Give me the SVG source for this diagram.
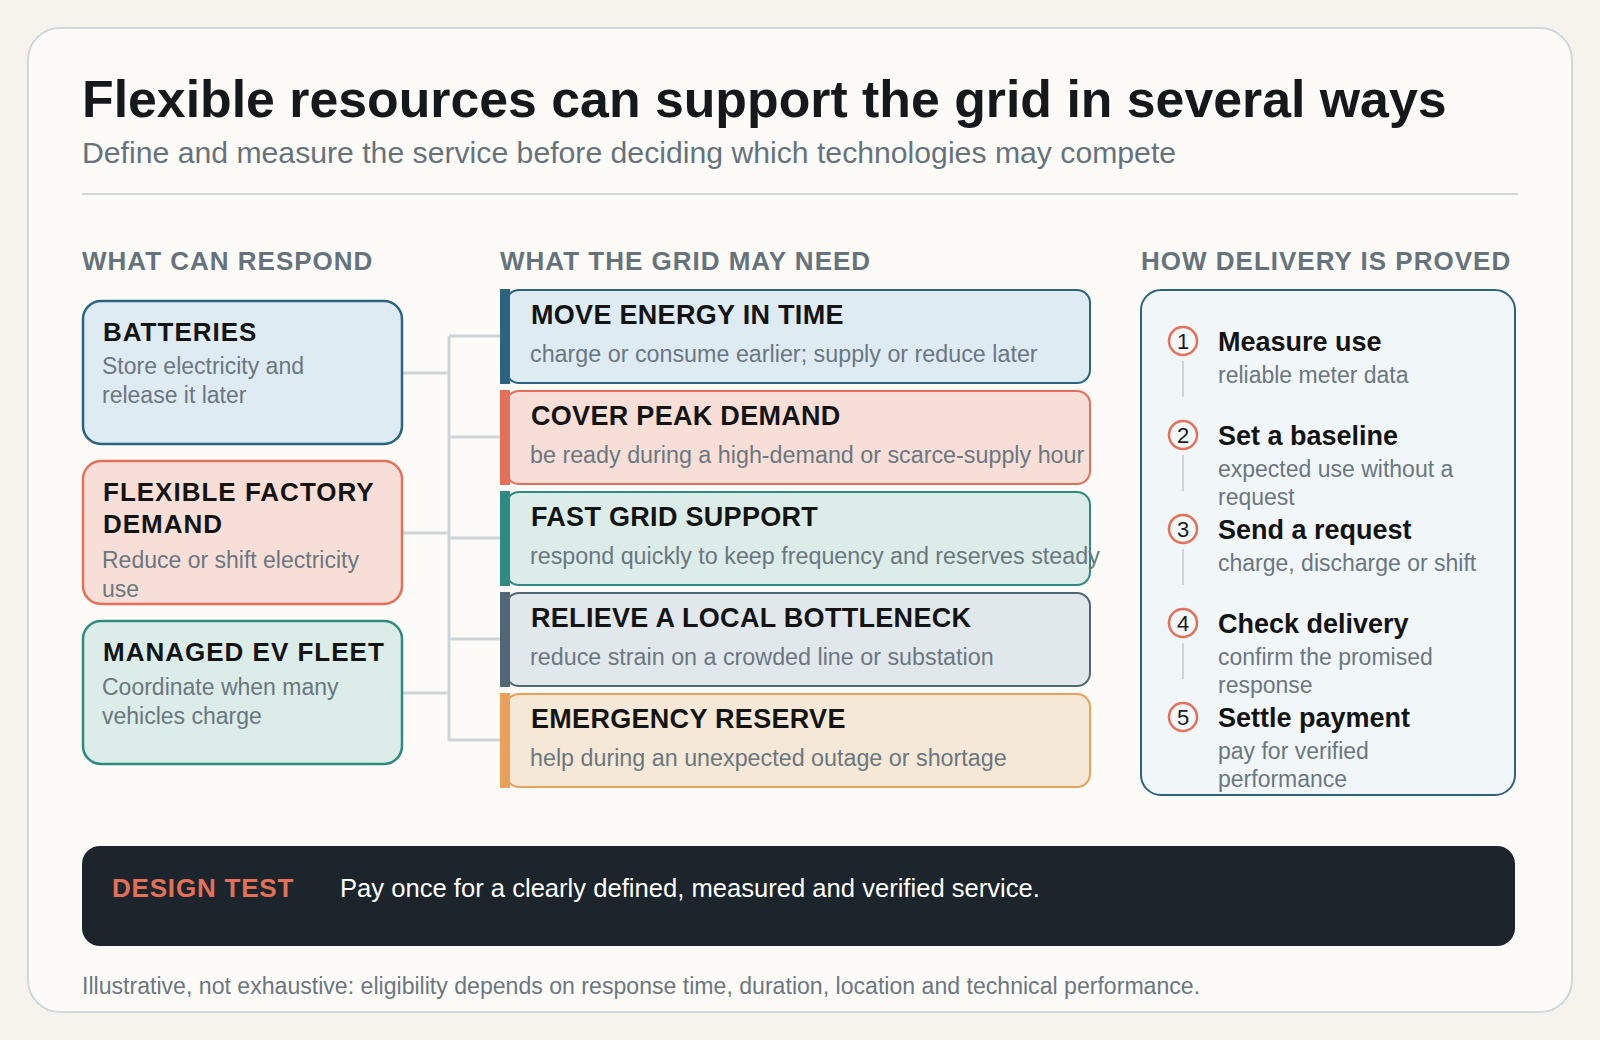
<svg xmlns="http://www.w3.org/2000/svg" width="1600" height="1040" viewBox="0 0 1600 1040">
<style>
text{font-family:"Liberation Sans",Arial,Helvetica,sans-serif}
.title{font-size:51.8px;font-weight:700;fill:#15191c}
.sub{font-size:30.2px;fill:#66737c}
.sec{font-size:26px;font-weight:700;fill:#66737c;letter-spacing:1px}
.lt{font-size:26px;font-weight:700;fill:#141414;letter-spacing:1px}
.mt{font-size:27px;font-weight:700;fill:#141414;letter-spacing:0.3px}
.rt{font-size:27px;font-weight:700;fill:#141414}
.d{font-size:23px;fill:#6b7780}
.md{font-size:23.3px;fill:#6b7780}
.num{font-size:22px;fill:#1b1b1b;text-anchor:middle}
.conn{stroke:#cdd5d9;stroke-width:3;fill:none}
.step{fill:none;stroke:#cdd5d9;stroke-width:2}
.circ{fill:#f2f7fa;stroke:#e5705a;stroke-width:2.5}
</style>
<rect width="1600" height="1040" fill="#f6f3ec"/>
<rect x="28" y="28" width="1544" height="984" rx="32" fill="#fcfbf8" stroke="#cfd8dc" stroke-width="2"/>
<text class="title" x="82" y="117">Flexible resources can support the grid in several ways</text>
<text class="sub" x="82" y="163">Define and measure the service before deciding which technologies may compete</text>
<line x1="82" y1="194" x2="1518" y2="194" stroke="#cfd8dc" stroke-width="2"/>
<text class="sec" x="82" y="270">WHAT CAN RESPOND</text>
<text class="sec" x="500" y="270">WHAT THE GRID MAY NEED</text>
<text class="sec" x="1141" y="270">HOW DELIVERY IS PROVED</text>

<g id="connectors">
<path class="conn" d="M402 373H449M402 533H449M402 693H449M449 336V741M449 336H501M449 437H501M449 538H501M449 639H501M449 740H501"/>
</g>

<g id="batteries">
<rect x="83" y="301" width="319" height="143" rx="18" fill="#deebf3" stroke="#2c6480" stroke-width="2.5"/>
<text class="lt" x="103" y="341">BATTERIES</text>
<text class="d" x="102" y="374">Store electricity and</text>
<text class="d" x="102" y="403">release it later</text>
</g>
<g id="factory">
<rect x="83" y="461" width="319" height="143" rx="18" fill="#f7dfd7" stroke="#e5705a" stroke-width="2.5"/>
<text class="lt" x="103" y="501">FLEXIBLE FACTORY</text>
<text class="lt" x="103" y="533">DEMAND</text>
<text class="d" x="102" y="568">Reduce or shift electricity</text>
<text class="d" x="102" y="597">use</text>
</g>
<g id="ev">
<rect x="83" y="621" width="319" height="143" rx="18" fill="#dcece8" stroke="#2e8b82" stroke-width="2.5"/>
<text class="lt" x="103" y="661">MANAGED EV FLEET</text>
<text class="d" x="102" y="695">Coordinate when many</text>
<text class="d" x="102" y="724">vehicles charge</text>
</g>

<g id="move">
<rect x="506" y="290" width="584" height="93" rx="13" fill="#deebf3" stroke="#2c6480" stroke-width="2"/>
<rect x="500" y="289" width="10" height="95" fill="#2c6480"/>
<text class="mt" x="531" y="324">MOVE ENERGY IN TIME</text>
<text class="md" x="530" y="362">charge or consume earlier; supply or reduce later</text>
</g>
<g id="peak">
<rect x="506" y="391" width="584" height="93" rx="13" fill="#f7dfd7" stroke="#e5705a" stroke-width="2"/>
<rect x="500" y="390" width="10" height="95" fill="#e5705a"/>
<text class="mt" x="531" y="425">COVER PEAK DEMAND</text>
<text class="md" x="530" y="463">be ready during a high-demand or scarce-supply hour</text>
</g>
<g id="fast">
<rect x="506" y="492" width="584" height="93" rx="13" fill="#dcece8" stroke="#2e8b82" stroke-width="2"/>
<rect x="500" y="491" width="10" height="95" fill="#2e8b82"/>
<text class="mt" x="531" y="526">FAST GRID SUPPORT</text>
<text class="md" x="530" y="564">respond quickly to keep frequency and reserves steady</text>
</g>
<g id="bottleneck">
<rect x="506" y="593" width="584" height="93" rx="13" fill="#e1e8ec" stroke="#506876" stroke-width="2"/>
<rect x="500" y="592" width="10" height="95" fill="#506876"/>
<text class="mt" x="531" y="627">RELIEVE A LOCAL BOTTLENECK</text>
<text class="md" x="530" y="665">reduce strain on a crowded line or substation</text>
</g>
<g id="emergency">
<rect x="506" y="694" width="584" height="93" rx="13" fill="#f5e8d6" stroke="#e8a05a" stroke-width="2"/>
<rect x="500" y="693" width="10" height="95" fill="#e8a05a"/>
<text class="mt" x="531" y="728">EMERGENCY RESERVE</text>
<text class="md" x="530" y="766">help during an unexpected outage or shortage</text>
</g>

<g id="delivery">
<rect x="1141" y="290" width="374" height="505" rx="20" fill="#f1f6f9" stroke="#2c6480" stroke-width="2"/>
<line class="step" x1="1183" y1="361" x2="1183" y2="397"/>
<line class="step" x1="1183" y1="455" x2="1183" y2="491"/>
<line class="step" x1="1183" y1="549" x2="1183" y2="585"/>
<line class="step" x1="1183" y1="643" x2="1183" y2="679"/>
<circle class="circ" cx="1183" cy="341" r="14"/>
<text class="num" x="1183" y="349">1</text>
<text class="rt" x="1218" y="351">Measure use</text>
<text class="d" x="1218" y="383">reliable meter data</text>
<circle class="circ" cx="1183" cy="435" r="14"/>
<text class="num" x="1183" y="443">2</text>
<text class="rt" x="1218" y="445">Set a baseline</text>
<text class="d" x="1218" y="477">expected use without a</text>
<text class="d" x="1218" y="505">request</text>
<circle class="circ" cx="1183" cy="529" r="14"/>
<text class="num" x="1183" y="537">3</text>
<text class="rt" x="1218" y="539">Send a request</text>
<text class="d" x="1218" y="571">charge, discharge or shift</text>
<circle class="circ" cx="1183" cy="623" r="14"/>
<text class="num" x="1183" y="631">4</text>
<text class="rt" x="1218" y="633">Check delivery</text>
<text class="d" x="1218" y="665">confirm the promised</text>
<text class="d" x="1218" y="693">response</text>
<circle class="circ" cx="1183" cy="717" r="14"/>
<text class="num" x="1183" y="725">5</text>
<text class="rt" x="1218" y="727">Settle payment</text>
<text class="d" x="1218" y="759">pay for verified</text>
<text class="d" x="1218" y="787">performance</text>
</g>

<g id="design-test">
<rect x="82" y="846" width="1433" height="100" rx="18" fill="#1b252b"/>
<text x="112" y="897" font-size="26" font-weight="700" fill="#e5705a" letter-spacing="0.8">DESIGN TEST</text>
<text x="340" y="897" font-size="25.6" fill="#ffffff">Pay once for a clearly defined, measured and verified service.</text>
</g>
<text x="82" y="994" font-size="23.1" fill="#6b7780">Illustrative, not exhaustive: eligibility depends on response time, duration, location and technical performance.</text>
</svg>
